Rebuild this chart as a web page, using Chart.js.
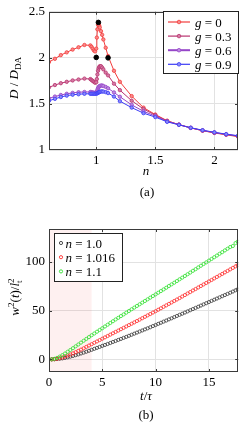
<!DOCTYPE html>
<html><head><meta charset="utf-8">
<script src="https://cdn.jsdelivr.net/npm/chart.js@4.4.1/dist/chart.umd.min.js"></script>
<style>
html,body{margin:0;padding:0;background:#fff;width:243px;height:428px;overflow:hidden}
.box{position:absolute;left:0;width:243px}
#wa{top:0;height:200px}
#wb{top:200px;height:228px}
</style></head><body>
<div class="box" id="wa"><canvas id="ca"></canvas></div>
<div class="box" id="wb"><canvas id="cb"></canvas></div>
<script>
// ---------- Panel (a) data ----------
const nVals = [0.6,0.65,0.7,0.75,0.8,0.85,0.9,0.95,0.96,0.97,0.98,0.99,1.0,1.005,1.01,1.015,1.02,1.025,1.03,1.04,1.05,1.06,1.08,1.1,1.15,1.2,1.3,1.4,1.5,1.6,1.7,1.8,1.9,2.0,2.1,2.2];
const dG0  = [1.955,1.99,2.03,2.06,2.09,2.115,2.14,2.135,2.12,2.10,2.08,2.07,2.10,2.22,2.31,2.36,2.37,2.35,2.33,2.29,2.25,2.20,2.11,2.02,1.86,1.74,1.585,1.46,1.385,1.318,1.275,1.24,1.21,1.185,1.165,1.145];
const dG03 = [1.68,1.705,1.725,1.74,1.755,1.765,1.775,1.77,1.76,1.75,1.74,1.73,1.735,1.77,1.82,1.86,1.885,1.90,1.91,1.91,1.895,1.875,1.84,1.81,1.72,1.65,1.535,1.445,1.378,1.315,1.275,1.24,1.21,1.188,1.168,1.15];
const dG06 = [1.56,1.58,1.597,1.61,1.62,1.627,1.63,1.63,1.628,1.625,1.622,1.62,1.623,1.635,1.655,1.67,1.682,1.69,1.695,1.70,1.70,1.695,1.685,1.67,1.625,1.578,1.49,1.42,1.368,1.31,1.275,1.24,1.213,1.19,1.17,1.153];
const dG09 = [1.535,1.555,1.575,1.59,1.60,1.605,1.61,1.61,1.61,1.61,1.61,1.61,1.611,1.614,1.618,1.622,1.625,1.628,1.631,1.635,1.636,1.634,1.628,1.618,1.58,1.53,1.46,1.40,1.357,1.306,1.273,1.242,1.215,1.192,1.172,1.155];
const markN = [1.0, 1.018, 1.1];
const markD = [2.005, 2.385, 2.0];
const gLabels = ['0','0.3','0.6','0.9'];
const xTicksA = [1, 1.5, 2];
const yTicksA = [1, 1.5, 2, 2.5];

// ---------- Panel (b) data ----------
const tVals = [0.25,0.5,0.75,1,1.25,1.5,1.75,2,2.25,2.5,2.75,3,3.25,3.5,3.75,4,4.25,4.5,4.75,5,5.25,5.5,5.75,6,6.25,6.5,6.75,7,7.25,7.5,7.75,8,8.25,8.5,8.75,9,9.25,9.5,9.75,10,10.25,10.5,10.75,11,11.25,11.5,11.75,12,12.25,12.5,12.75,13,13.25,13.5,13.75,14,14.25,14.5,14.75,15,15.25,15.5,15.75,16,16.25,16.5,16.75,17,17.25,17.5,17.7];
const wN10   = [0,0.1,0.3,0.6,1.0,1.5,2.1,2.8,3.5,4.3,5.1,6.0,6.9,7.8,8.8,9.8,10.8,11.8,12.8,13.8,14.8,15.8,16.8,17.9,18.9,20.0,21.0,22.1,23.1,24.2,25.3,26.4,27.5,28.6,29.7,30.8,31.9,33.0,34.2,35.3,36.5,37.6,38.8,39.9,41.1,42.2,43.4,44.6,45.8,46.9,48.1,49.3,50.5,51.7,52.9,54.1,55.3,56.5,57.7,58.9,60.1,61.3,62.5,63.7,64.9,66.1,67.3,68.5,69.7,71.0,72.0];
const wN1016 = [0,0.2,0.6,1.2,2.0,2.9,3.9,5.0,6.2,7.4,8.7,10.0,11.4,12.8,14.2,15.6,17.0,18.4,19.8,21.2,22.6,24.0,25.4,26.8,28.2,29.6,31.0,32.4,33.8,35.2,36.6,38.0,39.4,40.8,42.3,43.7,45.2,46.6,48.1,49.5,51.0,52.5,54.0,55.5,57.0,58.5,60.0,61.5,63.0,64.6,66.1,67.7,69.2,70.8,72.3,73.9,75.4,77.0,78.5,80.1,81.6,83.2,84.7,86.3,87.8,89.4,90.9,92.5,94.0,95.6,96.8];
const wN11   = [0,0.5,1.5,2.8,4.3,6.0,7.8,9.6,11.5,13.4,15.3,17.2,19.1,21.0,22.9,24.8,26.6,28.4,30.2,32.0,33.8,35.6,37.4,39.2,41.0,42.7,44.5,46.2,48.0,49.7,51.5,53.2,54.9,56.6,58.3,60.0,61.7,63.4,65.1,66.8,68.5,70.2,71.9,73.6,75.4,77.1,78.8,80.5,82.3,84.0,85.7,87.5,89.2,91.0,92.7,94.5,96.2,98.0,99.7,101.5,103.2,105.0,106.7,108.5,110.2,112.0,113.7,115.5,116.5,119.5,121.0];
const nLabels = ['1.0','1.016','1.1'];
const xTicksB = [0, 5, 10, 15];
const yTicksB = [0, 50, 100];
const shadeB = [0, 4];

// ---------- helpers ----------
const FONT = "'Liberation Serif','Times New Roman',serif";
Chart.defaults.font.family = FONT;
Chart.defaults.font.size = 13;
Chart.defaults.color = '#000';
Chart.defaults.animation = false;

function pts(xs, ys){ return xs.map((x,i)=>({x:x, y:ys[i]})); }

function drawMath(ctx, segs, x, y, opts){
  opts = opts || {};
  const size = opts.size || 13;
  ctx.save();
  ctx.translate(x, y);
  if (opts.rotate) ctx.rotate(-Math.PI/2);
  const items = segs.map(s => {
    const sz = (s.sub || s.sup) ? size*0.7 : size;
    const f = (s.i ? 'italic ' : '') + sz.toFixed(1) + 'px ' + FONT;
    ctx.font = f;
    return {s:s, f:f, w:ctx.measureText(s.t).width, dy: s.sub ? size*0.22 : (s.sup ? -size*0.4 : 0)};
  });
  let total = 0;
  items.forEach(it => { if (!it.s.stack) total += it.w + (it.s.k||0); });
  let cx = opts.align === 'left' ? 0 : -total/2;
  ctx.fillStyle = '#000'; ctx.textBaseline = 'alphabetic'; ctx.textAlign = 'left';
  items.forEach(it => {
    cx += (it.s.k||0);
    ctx.font = it.f;
    ctx.fillText(it.s.t, cx, it.dy);
    if (!it.s.stack) cx += it.w;
  });
  ctx.restore();
}

function frameAndTicks(chart){
  const ctx = chart.ctx, a = chart.chartArea;
  const sx = chart.scales.x, sy = chart.scales.y;
  ctx.save();
  ctx.strokeStyle = '#3a3a3a'; ctx.lineWidth = 1;
  ctx.beginPath();
  sx.ticks.forEach(t => {
    const p = Math.round(sx.getPixelForValue(t.value)) + 0.5;
    if (p <= a.left + 1 || p >= a.right - 1) return;
    ctx.moveTo(p, a.bottom); ctx.lineTo(p, a.bottom - 3);
    ctx.moveTo(p, a.top); ctx.lineTo(p, a.top + 3);
  });
  sy.ticks.forEach(t => {
    const p = Math.round(sy.getPixelForValue(t.value)) + 0.5;
    if (p <= a.top + 1 || p >= a.bottom - 1) return;
    ctx.moveTo(a.left, p); ctx.lineTo(a.left + 3, p);
    ctx.moveTo(a.right, p); ctx.lineTo(a.right - 3, p);
  });
  ctx.stroke();
  ctx.strokeRect(Math.round(a.left)+0.5, Math.round(a.top)+0.5, Math.round(a.right-a.left)-1, Math.round(a.bottom-a.top)-1);
  ctx.restore();
}

function axisOpts(min, max, tickArr, isX, size){
  return {
    type:'linear', min:min, max:max,
    afterBuildTicks: s => { s.ticks = tickArr.map(v => ({value:v})); },
    afterFit: s => { if (isX) s.height = size; else s.width = size; },
    grid:{color:'#e2e2e2', drawTicks:false, lineWidth:1},
    border:{display:false},
    ticks:{padding: isX ? 3 : 4, maxRotation:0, autoSkip:false, color:'#000',
           font:{family:FONT, size:13}, callback: v => String(v)}
  };
}

// ---------- Panel (a) ----------
const colA = ['#f23c3c','#b8336f','#9545c8','#3b3bf5'];
const fillA = ['#f98a8a','#d67ba4','#bc8ae0','#8a8af9'];
const seriesA = [dG0, dG03, dG06, dG09];

const dsA = seriesA.map((arr,i) => ({
  label:'g = ' + gLabels[i],
  data: pts(nVals, arr),
  borderColor: colA[i], backgroundColor: fillA[i],
  pointBorderColor: colA[i], pointBackgroundColor: fillA[i],
  borderWidth: 1, pointRadius: 1.7, pointBorderWidth: 0.8,
  tension: 0, order: 5 - i
}));
dsA.push({
  label:'marks', data: pts(markN, markD), showLine:false,
  pointRadius: 2.3, pointBackgroundColor:'#000', pointBorderColor:'#000', borderColor:'#000',
  order: 0
});

const decorA = {
  id:'decorA',
  afterDraw(chart){
    const ctx = chart.ctx;
    frameAndTicks(chart);
    ctx.save();
    ctx.fillStyle = '#fff'; ctx.strokeStyle = '#222'; ctx.lineWidth = 1;
    ctx.fillRect(163.5, 11.5, 75, 62);
    ctx.strokeRect(163.5, 11.5, 75, 62);
    gLabels.forEach((g,i) => {
      const y = 22 + i*14.1;
      ctx.strokeStyle = colA[i]; ctx.lineWidth = (i===2) ? 2 : 1.2;
      ctx.beginPath(); ctx.moveTo(168, y); ctx.lineTo(190, y); ctx.stroke();
      ctx.beginPath(); ctx.arc(179, y, 1.8, 0, Math.PI*2);
      ctx.fillStyle = fillA[i]; ctx.fill(); ctx.lineWidth = 0.8; ctx.stroke();
      drawMath(ctx, [{t:'g', i:true}, {t:' = ' + g}], 195, y + 4.5, {align:'left'});
    });
    ctx.restore();
    drawMath(ctx, [{t:'D', i:true}, {t:' / '}, {t:'D', i:true}, {t:'DA', sub:true}], 18, 78, {rotate:true});
    drawMath(ctx, [{t:'n', i:true}], 146, 175);
    drawMath(ctx, [{t:'(a)'}], 147, 196);
  }
};

new Chart(document.getElementById('ca'), {
  type:'line',
  data:{datasets: dsA},
  options:{
    responsive:true, maintainAspectRatio:false,
    layout:{padding:{top:7, right:1, left:0, bottom:0}},
    plugins:{legend:{display:false}, tooltip:{enabled:false}},
    scales:{ x: axisOpts(0.6, 2.2, xTicksA, true, 50), y: axisOpts(1, 2.5, yTicksA, false, 49) }
  },
  plugins:[decorA]
});

// ---------- Panel (b) ----------
const colB = ['#3a3a3a','#ff2a2a','#2ee02e'];
const seriesB = [wN10, wN1016, wN11];
const dsB = seriesB.map((arr,i) => ({
  label:'n = ' + nLabels[i],
  data: pts(tVals, arr), showLine:false,
  pointRadius: 1.6, pointBorderWidth: 0.8,
  pointBorderColor: colB[i], pointBackgroundColor:'rgba(255,255,255,0)', borderColor: colB[i],
  order: 3 - i
}));

const decorB = {
  id:'decorB',
  beforeDatasetsDraw(chart){
    const ctx = chart.ctx, a = chart.chartArea, sx = chart.scales.x;
    const x0 = sx.getPixelForValue(shadeB[0]), x1 = sx.getPixelForValue(shadeB[1]);
    ctx.save();
    ctx.fillStyle = 'rgba(240,60,60,0.08)';
    ctx.fillRect(x0, a.top, x1 - x0, a.bottom - a.top);
    ctx.restore();
  },
  afterDraw(chart){
    const ctx = chart.ctx;
    frameAndTicks(chart);
    ctx.save();
    ctx.fillStyle = '#fff'; ctx.strokeStyle = '#222'; ctx.lineWidth = 1;
    ctx.fillRect(54.5, 33.5, 68, 48);
    ctx.strokeRect(54.5, 33.5, 68, 48);
    nLabels.forEach((n,i) => {
      const y = 43 + i*14.2;
      ctx.strokeStyle = colB[i]; ctx.lineWidth = 0.9;
      ctx.beginPath(); ctx.arc(61, y, 1.6, 0, Math.PI*2); ctx.stroke();
      drawMath(ctx, [{t:'n', i:true}, {t:' = ' + n}], 65.5, y + 4.5, {align:'left'});
    });
    ctx.restore();
    drawMath(ctx, [{t:'w', i:true}, {t:'2', sup:true}, {t:'('}, {t:'t', i:true}, {t:')/'}, {t:'l', i:true}, {t:'t', sub:true, stack:true}, {t:'2', sup:true}], 19, 97, {rotate:true});
    drawMath(ctx, [{t:'t', i:true}, {t:'/'}, {t:'τ', i:true}], 146, 200);
    drawMath(ctx, [{t:'(b)'}], 146, 219);
  }
};

new Chart(document.getElementById('cb'), {
  type:'scatter',
  data:{datasets: dsB},
  options:{
    responsive:true, maintainAspectRatio:false,
    layout:{padding:{top:29, right:1, left:0, bottom:0}},
    plugins:{legend:{display:false}, tooltip:{enabled:false}},
    scales:{ x: axisOpts(0, 17.75, xTicksB, true, 56), y: axisOpts(-13, 134, yTicksB, false, 49) }
  },
  plugins:[decorB]
});
</script>
</body></html>
